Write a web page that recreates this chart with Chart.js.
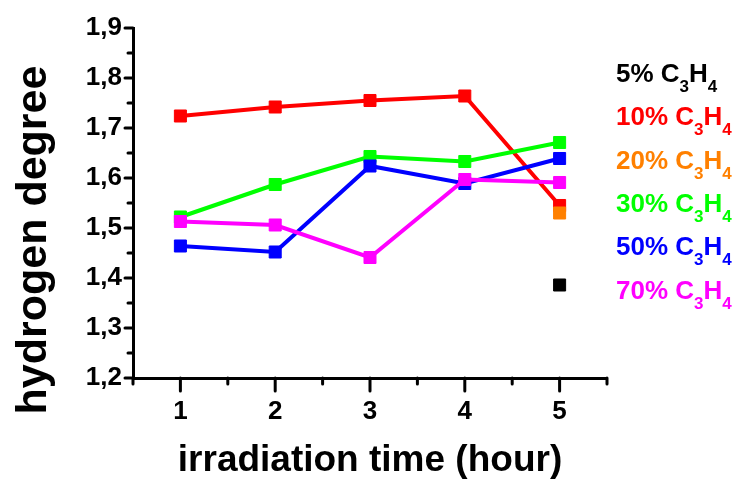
<!DOCTYPE html>
<html>
<head>
<meta charset="utf-8">
<script src="https://cdn.jsdelivr.net/npm/chart.js@4/dist/chart.umd.min.js"></script>
<style>
  html, body { margin: 0; padding: 0; background: #ffffff; }
  #wrap { width: 734px; height: 483px; position: relative; }
</style>
</head>
<body>
<div id="wrap"><canvas id="c"></canvas></div>
<script>
// ---- data ----
const hours = [1, 2, 3, 4, 5];
const xTickLabels = ['1', '2', '3', '4', '5'];
const yTickValues = [1.2, 1.3, 1.4, 1.5, 1.6, 1.7, 1.8, 1.9];
const yTickLabels = ['1,2', '1,3', '1,4', '1,5', '1,6', '1,7', '1,8', '1,9'];

const seriesNames = ['5%', '10%', '20%', '30%', '50%', '70%'];
const seriesColors = ['#000000', '#ff0000', '#ff8000', '#00ff00', '#0000ff', '#ff00ff'];

const c3h4_5  = [null, null, null, null, 1.386];
const c3h4_10 = [1.724, 1.742, 1.755, 1.764, 1.545];
const c3h4_20 = [null, null, null, null, 1.530];
const c3h4_30 = [1.522, 1.587, 1.643, 1.633, 1.671];
const c3h4_50 = [1.464, 1.452, 1.624, 1.589, 1.639];
const c3h4_70 = [1.513, 1.506, 1.441, 1.597, 1.591];

const seriesValues = [c3h4_5, c3h4_10, c3h4_20, c3h4_30, c3h4_50, c3h4_70];

const xMinorTicks = [0.5, 1.5, 2.5, 3.5, 4.5, 5.5];
const yMinorTicks = [1.25, 1.35, 1.45, 1.55, 1.65, 1.75, 1.85];

const FONT = "'Liberation Sans', Arial, sans-serif";

const datasets = seriesValues.map((vals, i) => ({
  label: seriesNames[i] + ' C3H4',
  data: hours.map((h, j) => ({ x: h, y: vals[j] })).filter(p => p.y !== null),
  borderColor: seriesColors[i],
  backgroundColor: seriesColors[i],
  borderWidth: 4,
  pointStyle: 'rect',
  pointRadius: 8.5,
  pointBorderWidth: 1,
  pointBorderColor: seriesColors[i],
  pointBackgroundColor: seriesColors[i],
  tension: 0,
  order: seriesValues.length - i,
  clip: false
}));

const tickMarks = {
  id: 'tickMarks',
  afterDraw(chart) {
    const ctx = chart.ctx;
    const xs = chart.scales.x, ys = chart.scales.y;
    const ca = chart.chartArea;
    ctx.save();
    ctx.strokeStyle = '#000';
    ctx.lineWidth = 3;
    ctx.lineCap = 'round';
    const yAxisX = ca.left, xAxisY = ca.bottom;
    hours.forEach(v => {
      const px = xs.getPixelForValue(v);
      ctx.beginPath(); ctx.moveTo(px, xAxisY); ctx.lineTo(px, xAxisY + 13); ctx.stroke();
    });
    xMinorTicks.forEach(v => {
      const px = xs.getPixelForValue(v);
      ctx.beginPath(); ctx.moveTo(px, xAxisY); ctx.lineTo(px, xAxisY + 6); ctx.stroke();
    });
    yTickValues.forEach(v => {
      const py = ys.getPixelForValue(v);
      ctx.beginPath(); ctx.moveTo(yAxisX, py); ctx.lineTo(yAxisX - 8, py); ctx.stroke();
    });
    yMinorTicks.forEach(v => {
      const py = ys.getPixelForValue(v);
      ctx.beginPath(); ctx.moveTo(yAxisX, py); ctx.lineTo(yAxisX - 5, py); ctx.stroke();
    });
    ctx.restore();
  }
};

const yTitle = {
  id: 'yTitle',
  afterDraw(chart) {
    const ctx = chart.ctx;
    ctx.save();
    ctx.translate(34, 240);
    ctx.rotate(-Math.PI / 2);
    ctx.font = 'bold 43px ' + FONT;
    ctx.fillStyle = '#000';
    ctx.textAlign = 'center';
    ctx.textBaseline = 'middle';
    ctx.fillText('hydrogen degree', 0, 0);
    ctx.restore();
  }
};

const subLegend = {
  id: 'subLegend',
  afterDraw(chart) {
    const ctx = chart.ctx;
    ctx.save();
    const x0 = 616, y0 = 82, dy = 43.3;
    seriesNames.forEach((name, i) => {
      const y = y0 + i * dy;
      let x = x0;
      ctx.fillStyle = seriesColors[i];
      ctx.textBaseline = 'alphabetic';
      ctx.textAlign = 'left';
      const parts = [[name + ' C', false], ['3', true], ['H', false], ['4', true]];
      parts.forEach(([t, sub]) => {
        ctx.font = sub ? 'bold 17px ' + FONT : 'bold 26px ' + FONT;
        ctx.fillText(t, x, sub ? y + 10 : y);
        x += ctx.measureText(t).width;
      });
    });
    ctx.restore();
  }
};

new Chart(document.getElementById('c'), {
  type: 'line',
  data: { datasets },
  options: {
    responsive: true,
    maintainAspectRatio: false,
    devicePixelRatio: 1,
    animation: false,
    layout: { padding: { top: 28, right: 127, left: 0, bottom: 0 } },
    plugins: { legend: { display: false }, tooltip: { enabled: false } },
    scales: {
      x: {
        type: 'linear',
        min: 0.5, max: 5.5,
        afterBuildTicks: s => { s.ticks = hours.map(v => ({ value: v })); },
        afterFit: s => { s.height = 105; },
        grid: { display: false, drawTicks: true, tickLength: 13 },
        border: { display: true, color: '#000', width: 3 },
        ticks: {
          padding: 5,
          color: '#000',
          font: { family: FONT, size: 26, weight: 'bold' },
          maxRotation: 0,
          callback: (v) => { const k = hours.indexOf(v); return k >= 0 ? xTickLabels[k] : ''; }
        },
        title: {
          display: true,
          text: 'irradiation time (hour)',
          color: '#000',
          font: { family: FONT, size: 37, weight: 'bold' },
          padding: { top: 0, bottom: 0 }
        }
      },
      y: {
        type: 'linear',
        min: 1.2, max: 1.9,
        afterBuildTicks: s => { s.ticks = yTickValues.map(v => ({ value: v })); },
        afterFit: s => { s.width = 133; },
        grid: { display: false, drawTicks: true, tickLength: 8 },
        border: { display: true, color: '#000', width: 3 },
        ticks: {
          padding: 3,
          color: '#000',
          font: { family: FONT, size: 26, weight: 'bold' },
          callback: (v) => {
            const k = yTickValues.findIndex(t => Math.abs(t - v) < 1e-6);
            return k >= 0 ? yTickLabels[k] : '';
          }
        }
      }
    }
  },
  plugins: [tickMarks, yTitle, subLegend]
});
</script>
</body>
</html>
